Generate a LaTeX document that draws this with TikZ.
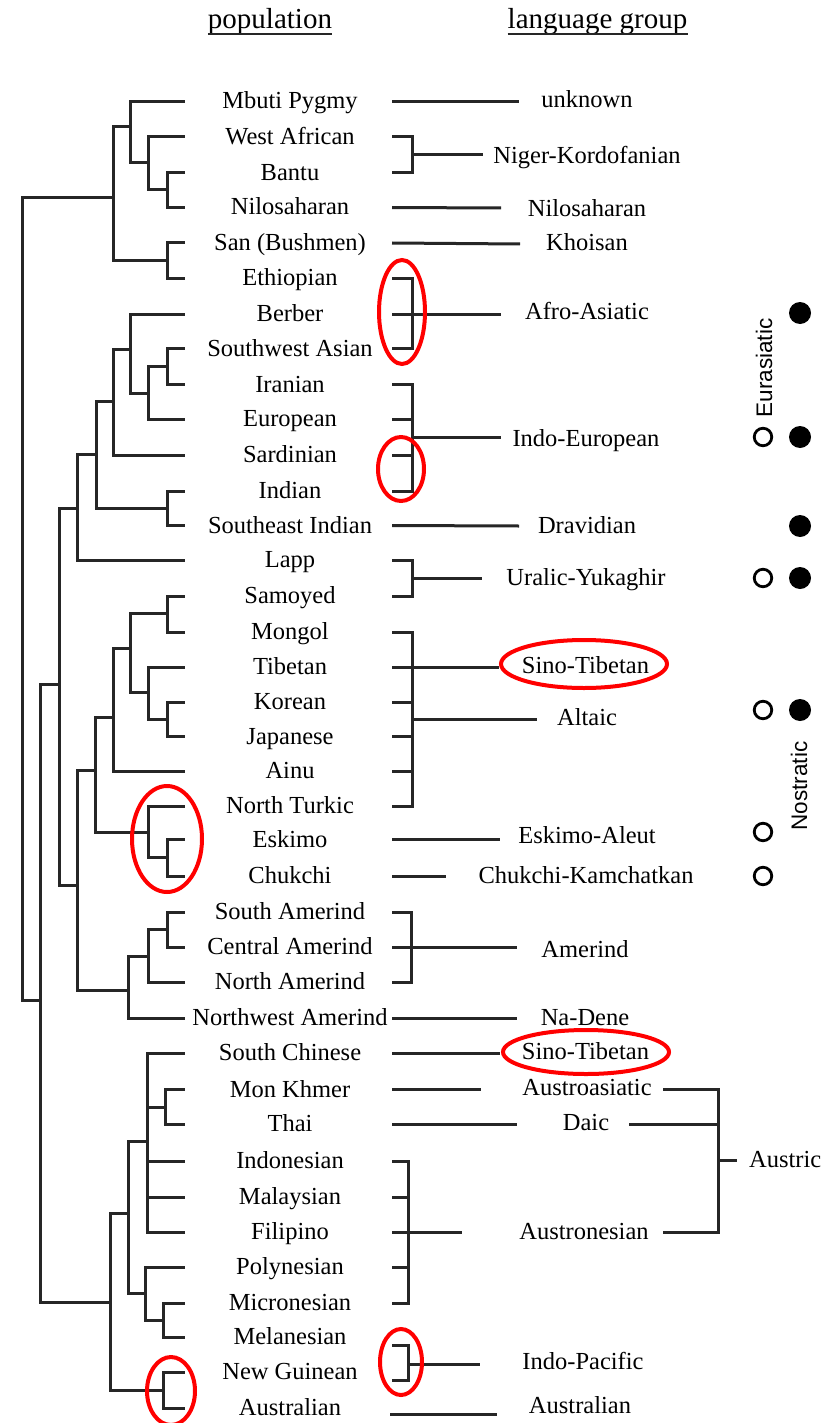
\documentclass[tikz,border=0pt]{standalone}
\usepackage{fontspec}
\setmainfont{Liberation Serif}
\newfontfamily\sansf{Liberation Sans}
\begin{document}
\begin{tikzpicture}[x=1pt,y=-1pt,
  tree/.style={line width=3pt, draw=black!85},
  pop/.style={font=\fontsize{24.5}{28}\selectfont, inner sep=0pt, text height=19pt, text depth=4pt, anchor=center},
  lang/.style={font=\fontsize{24.5}{28}\selectfont, inner sep=0pt, text height=19pt, text depth=4pt, anchor=center},
  hdr/.style={font=\fontsize{29}{32}\selectfont, inner sep=0pt, anchor=center},
  vlab/.style={font=\sansf\fontsize{22.5}{25}\selectfont, inner sep=0pt, rotate=90, anchor=center},
  redring/.style={line width=4pt, draw=red},
  opendot/.style={circle, draw=black, line width=2.8pt, minimum size=17.5pt, inner sep=0pt},
  fulldot/.style={circle, fill=black, minimum size=22pt, inner sep=0pt}]
\fill[white] (0,0) rectangle (833,1423);
\useasboundingbox (0,0) rectangle (833,1423);

% headers
\node[hdr] (hpop) at (270,22) {population};
\node[hdr] (hlang) at (597.5,22) {language group};
\coordinate (uy) at (0,34);
\draw[line width=1.8pt, black!85] (hpop.west |- uy) -- (hpop.east |- uy);
\draw[line width=1.8pt, black!85] (hlang.west |- uy) -- (hlang.east |- uy);

% populations, leaf ends and right-side stubs
\foreach \i/\y/\t in {1/101.5/Mbuti Pygmy, 2/137/West African, 3/173/Bantu,
  4/207.5/Nilosaharan, 5/243/San (Bushmen), 6/278/Ethiopian, 7/314/Berber,
  8/348.5/Southwest Asian, 9/384.5/Iranian, 10/419/European, 11/455/Sardinian,
  12/491/Indian, 13/525.5/Southeast Indian, 14/560/Lapp, 15/596/Samoyed,
  16/632/Mongol, 17/667/Tibetan, 18/702/Korean, 19/736.5/Japanese, 20/771/Ainu,
  21/806/North Turkic, 22/839.5/Eskimo, 23/876/Chukchi, 24/912/South Amerind,
  25/947/Central Amerind, 26/982/North Amerind, 27/1018/Northwest Amerind,
  28/1053/South Chinese, 29/1089.5/Mon Khmer, 30/1124/Thai, 31/1161/Indonesian,
  32/1197/Malaysian, 33/1232/Filipino, 34/1267/Polynesian, 35/1303/Micronesian,
  36/1337/Melanesian, 37/1372/New Guinean, 38/1408/Australian} {
  \node[pop] (p\i) at (290,\y) {\t};
  \coordinate (lf\i) at (185,\y);
  \coordinate (rs\i) at (392,\y);
}

% internal tree nodes
\coordinate (n1) at (167,190);
\coordinate (n2) at (148,163);
\coordinate (n3) at (130,127);
\coordinate (n4) at (167,260.5);
\coordinate (n5) at (113,198);
\coordinate (n6) at (167,366);
\coordinate (n7) at (148,393);
\coordinate (n8) at (130,349);
\coordinate (n9) at (113,401);
\coordinate (n10) at (167,508);
\coordinate (n11) at (96,454);
\coordinate (n12) at (77,508);
\coordinate (n13) at (167,613);
\coordinate (n14) at (167,719);
\coordinate (n15) at (148,692);
\coordinate (n16) at (130,648);
\coordinate (n17) at (113,717);
\coordinate (n18) at (167,857.5);
\coordinate (n19) at (148,832);
\coordinate (n20) at (95,770);
\coordinate (n21) at (167,929.5);
\coordinate (n22) at (148,956);
\coordinate (n23) at (128,990);
\coordinate (n24) at (77,885);
\coordinate (n25) at (59,684);
\coordinate (n27) at (165,1107);
\coordinate (n28) at (147,1141);
\coordinate (n29) at (163,1320);
\coordinate (n30) at (145,1293);
\coordinate (n31) at (128,1213);
\coordinate (n32) at (163,1390);
\coordinate (n33) at (110,1302);
\coordinate (n34) at (40,1000);
\coordinate (root) at (22,600);

\foreach \a/\b in {n1/lf3, n1/lf4, n2/lf2, n2/n1, n3/lf1, n3/n2, n4/lf5, n4/lf6,
  n5/n3, n5/n4, n6/lf8, n6/lf9, n7/n6, n7/lf10, n8/lf7, n8/n7, n9/n8, n9/lf11,
  n10/lf12, n10/lf13, n11/n9, n11/n10, n12/n11, n12/lf14,
  n13/lf15, n13/lf16, n14/lf18, n14/lf19, n15/lf17, n15/n14, n16/n13, n16/n15,
  n17/n16, n17/lf20, n18/lf22, n18/lf23, n19/lf21, n19/n18, n20/n17, n20/n19,
  n21/lf24, n21/lf25, n22/n21, n22/lf26, n23/n22, n23/lf27, n24/n20, n24/n23,
  n25/n12, n25/n24,
  n27/lf29, n27/lf30, n28/lf28, n28/n27, n28/lf31, n28/lf32, n28/lf33,
  n29/lf35, n29/lf36, n30/lf34, n30/n29, n31/n28, n31/n30, n32/lf37, n32/lf38,
  n33/n31, n33/n32, n34/n25, n34/n33, root/n5, root/n34}
  \draw[tree] (\a) |- (\b);

% language groups
\node[lang] (L1) at (587,100) {unknown};
\node[lang] (L2) at (587,156) {Niger-Kordofanian};
\node[lang] (L3) at (587,209) {Nilosaharan};
\node[lang] (L4) at (587,243) {Khoisan};
\node[lang] (L5) at (587,312) {Afro-Asiatic};
\node[lang] (L6) at (586,439) {Indo-European};
\node[lang] (L7) at (587,526) {Dravidian};
\node[lang] (L8) at (586,578) {Uralic-Yukaghir};
\node[lang] (L9) at (585.5,666) {Sino-Tibetan};
\node[lang] (L10) at (587,718) {Altaic};
\node[lang] (L11) at (587,836) {Eskimo-Aleut};
\node[lang] (L12) at (586,876) {Chukchi-Kamchatkan};
\node[lang] (L13) at (585,950) {Amerind};
\node[lang] (L14) at (585,1018) {Na-Dene};
\node[lang] (L15) at (585.5,1052) {Sino-Tibetan};
\node[lang] (L16) at (587,1088) {Austroasiatic};
\node[lang] (L17) at (586,1123) {Daic};
\node[lang] (L18) at (584,1232) {Austronesian};
\node[lang] (L19) at (583,1362) {Indo-Pacific};
\node[lang] (L20) at (580,1406) {Australian};
\node[lang, anchor=west] (L21) at (749,1160) {Austric};

% line ends
\coordinate (e1) at (519,101.5);
\coordinate (bNK) at (412,155);  \coordinate (eNK) at (483,155);
\coordinate (e3) at (501,208);
\coordinate (e4) at (520,244);
\coordinate (bAA) at (412,314);  \coordinate (eAA) at (501,314);
\coordinate (bIE) at (412,437);  \coordinate (eIE) at (501,437);
\coordinate (e7) at (519,526);
\coordinate (bUY) at (412,578);  \coordinate (eUY) at (482,578);
\coordinate (bAL) at (412,719);  \coordinate (eAL) at (537,719);
\coordinate (eST) at (499,667);
\coordinate (e11) at (500,839.5);
\coordinate (e12) at (446,876);
\coordinate (bAM) at (411,947);  \coordinate (eAM) at (517,947);
\coordinate (e14) at (517,1018);
\coordinate (e15) at (500,1053);
\coordinate (e16) at (481,1089.5);
\coordinate (e17) at (517,1124);
\coordinate (bAN) at (408,1232); \coordinate (eAN) at (462,1232);
\coordinate (ip1) at (392,1345); \coordinate (ip2) at (392,1380);
\coordinate (bIP) at (408,1364); \coordinate (eIP) at (480,1364);
\coordinate (au1) at (390,1414); \coordinate (au2) at (497,1414);
\coordinate (aS1) at (663,1089.5);
\coordinate (aS2) at (629,1124); \coordinate (aD) at (718,1124);
\coordinate (aS3) at (663,1232);
\coordinate (aB) at (718,1160);  \coordinate (aE) at (737,1160);

\draw[tree] (rs1) -- (e1);
\draw[tree] (rs2) -| (bNK);  \draw[tree] (rs3) -| (bNK);  \draw[tree] (bNK) -- (eNK);
\draw[tree] (rs4) -- (e3);
\draw[tree] (rs5) -- (e4);
\foreach \r in {6,8} \draw[tree] (rs\r) -| (bAA);
\draw[tree] (rs7) -- (eAA);
\foreach \r in {9,10,11,12} \draw[tree] (rs\r) -| (bIE);
\draw[tree] (bIE) -- (eIE);
\draw[tree] (rs13) -- (e7);
\foreach \r in {14,15} \draw[tree] (rs\r) -| (bUY);
\draw[tree] (bUY) -- (eUY);
\foreach \r in {16,17,18,19,20,21} \draw[tree] (rs\r) -| (bAL);
\draw[tree] (bAL) -- (eAL);
\draw[tree] (rs17) -- (eST);
\draw[tree] (rs22) -- (e11);
\draw[tree] (rs23) -- (e12);
\foreach \r in {24,26} \draw[tree] (rs\r) -| (bAM);
\draw[tree] (rs25) -- (eAM);
\draw[tree] (rs27) -- (e14);
\draw[tree] (rs28) -- (e15);
\draw[tree] (rs29) -- (e16);
\draw[tree] (rs30) -- (e17);
\foreach \r in {31,32,34,35} \draw[tree] (rs\r) -| (bAN);
\draw[tree] (rs33) -- (eAN);
\draw[tree] (ip1) -| (bIP);  \draw[tree] (ip2) -| (bIP);  \draw[tree] (bIP) -- (eIP);
\draw[tree] (au1) -- (au2);
\draw[tree] (aS1) -| (aB);
\draw[tree] (aS3) -| (aB);
\draw[tree] (aS2) -- (aD);
\draw[tree] (aB) -- (aE);

% dots
\node[fulldot] (f1) at (800,313) {};
\node[opendot] (o2) at (763,437) {};
\node[fulldot] (f2) at (800,437) {};
\node[fulldot] (f3) at (800,526) {};
\node[opendot] (o4) at (763,578) {};
\node[fulldot] (f4) at (800,578) {};
\node[opendot] (o5) at (763,710) {};
\node[fulldot] (f5) at (800,710) {};
\node[opendot] (o6) at (763,832) {};
\node[opendot] (o7) at (763,876) {};

\node[vlab] (eur) at (764,368) {Eurasiatic};
\node[vlab] (nos) at (799,786) {Nostratic};

% red rings
\draw[redring] (402,312) ellipse [x radius=23, y radius=52];
\draw[redring] (401,469) ellipse [x radius=23, y radius=32];
\draw[redring] (584,664) ellipse [x radius=83, y radius=24];
\draw[redring] (167,839) ellipse [x radius=35, y radius=53];
\draw[redring] (586,1052) ellipse [x radius=83, y radius=22];
\draw[redring] (401,1362) ellipse [x radius=21, y radius=33];
\draw[redring] (171,1391) ellipse [x radius=24, y radius=34];
\end{tikzpicture}
\end{document}
